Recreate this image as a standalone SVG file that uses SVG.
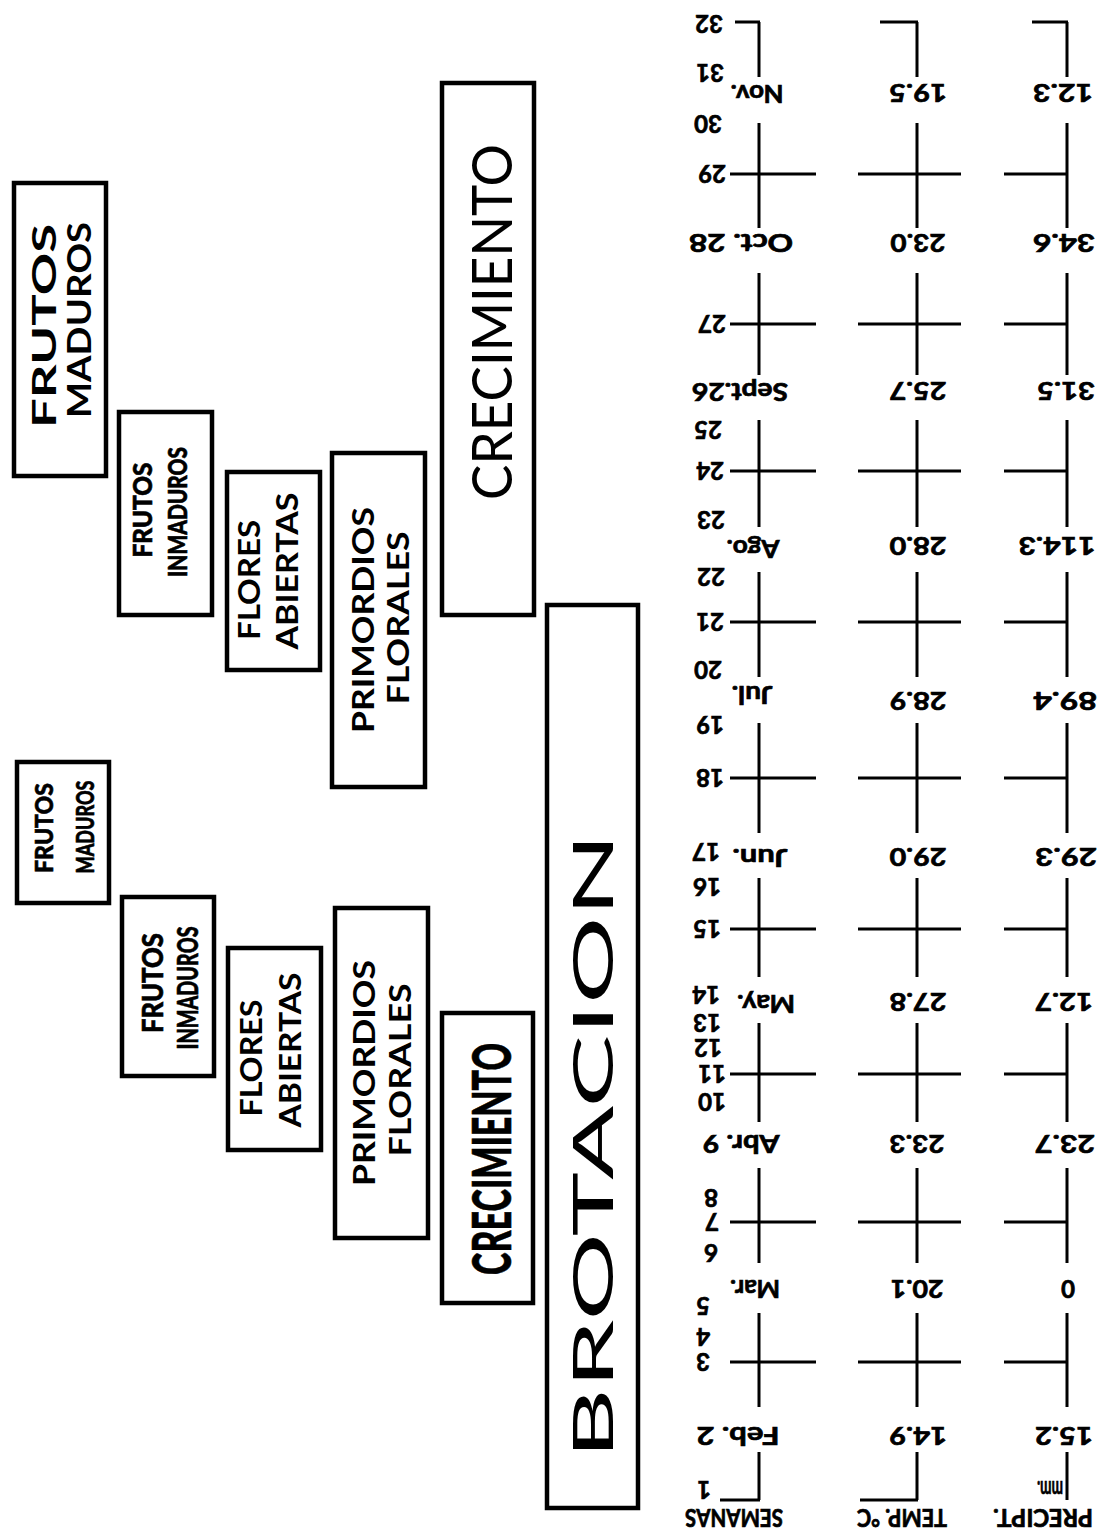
<svg xmlns="http://www.w3.org/2000/svg" width="1103" height="1535" viewBox="0 0 1103 1535">
<style>
  .box{fill:none;stroke:#000;stroke-width:4.5}
  .ax{fill:none;stroke:#000;stroke-width:3}
  .t{font-family:Lato,"Open Sans","Liberation Sans",sans-serif;fill:#000;text-anchor:middle}
  .b{font-weight:700}
  .k{font-weight:900;stroke:#000;stroke-width:0.6}
  .r{font-weight:400}
  .w{font-size:24px;font-weight:700;stroke:#000;stroke-width:0.7}
</style>
<rect width="1103" height="1535" fill="#fff"/>

<!-- phase boxes, text runs bottom to top -->
<g id="frutos-maduros-1">
  <rect class="box" x="14" y="183" width="92" height="293"/>
  <text class="t b" font-size="32" dy="0.36em" transform="translate(44,326) rotate(-90)" textLength="204" lengthAdjust="spacingAndGlyphs">FRUTOS</text>
  <text class="t b" font-size="32" dy="0.36em" transform="translate(79,320) rotate(-90)" textLength="196" lengthAdjust="spacingAndGlyphs">MADUROS</text>
</g>
<g id="frutos-inmaduros-1">
  <rect class="box" x="119" y="412" width="93" height="203"/>
  <text class="t k" font-size="26" dy="0.36em" transform="translate(143,510) rotate(-90)" textLength="95" lengthAdjust="spacingAndGlyphs">FRUTOS</text>
  <text class="t k" font-size="26" dy="0.36em" transform="translate(178,512) rotate(-90)" textLength="130" lengthAdjust="spacingAndGlyphs">INMADUROS</text>
</g>
<g id="flores-abiertas-1">
  <rect class="box" x="227" y="472" width="93" height="198"/>
  <text class="t b" font-size="30" dy="0.36em" transform="translate(249,580) rotate(-90)" textLength="120" lengthAdjust="spacingAndGlyphs">FLORES</text>
  <text class="t b" font-size="30" dy="0.36em" transform="translate(287,571) rotate(-90)" textLength="157" lengthAdjust="spacingAndGlyphs">ABIERTAS</text>
</g>
<g id="primordios-florales-1">
  <rect class="box" x="332" y="453" width="93" height="334"/>
  <text class="t b" font-size="30" dy="0.36em" transform="translate(363,620) rotate(-90)" textLength="226" lengthAdjust="spacingAndGlyphs">PRIMORDIOS</text>
  <text class="t b" font-size="30" dy="0.36em" transform="translate(398,618) rotate(-90)" textLength="173" lengthAdjust="spacingAndGlyphs">FLORALES</text>
</g>
<g id="crecimiento-1">
  <rect class="box" x="442" y="83" width="92" height="532"/>
  <text class="t r" font-size="56" dy="0.36em" transform="translate(492,322) rotate(-90)" textLength="356" lengthAdjust="spacingAndGlyphs">CRECIMIENTO</text>
</g>

<g id="frutos-maduros-2">
  <rect class="box" x="17" y="762" width="92" height="141"/>
  <text class="t k" font-size="25" dy="0.36em" transform="translate(44,828) rotate(-90)" textLength="90" lengthAdjust="spacingAndGlyphs">FRUTOS</text>
  <text class="t k" font-size="25" dy="0.36em" transform="translate(85,827) rotate(-90)" textLength="93" lengthAdjust="spacingAndGlyphs">MADUROS</text>
</g>
<g id="frutos-inmaduros-2">
  <rect class="box" x="122" y="897" width="92" height="179"/>
  <text class="t k" font-size="28" dy="0.36em" transform="translate(153,983) rotate(-90)" textLength="100" lengthAdjust="spacingAndGlyphs">FRUTOS</text>
  <text class="t k" font-size="28" dy="0.36em" transform="translate(188,988) rotate(-90)" textLength="123" lengthAdjust="spacingAndGlyphs">INMADUROS</text>
</g>
<g id="flores-abiertas-2">
  <rect class="box" x="228" y="948" width="93" height="202"/>
  <text class="t b" font-size="30" dy="0.36em" transform="translate(251,1058) rotate(-90)" textLength="117" lengthAdjust="spacingAndGlyphs">FLORES</text>
  <text class="t b" font-size="30" dy="0.36em" transform="translate(290,1050) rotate(-90)" textLength="155" lengthAdjust="spacingAndGlyphs">ABIERTAS</text>
</g>
<g id="primordios-florales-2">
  <rect class="box" x="335" y="908" width="93" height="330"/>
  <text class="t b" font-size="30" dy="0.36em" transform="translate(364,1073) rotate(-90)" textLength="226" lengthAdjust="spacingAndGlyphs">PRIMORDIOS</text>
  <text class="t b" font-size="30" dy="0.36em" transform="translate(400,1070) rotate(-90)" textLength="173" lengthAdjust="spacingAndGlyphs">FLORALES</text>
</g>
<g id="crecimiento-2">
  <rect class="box" x="442" y="1013" width="91" height="290"/>
  <text class="t k" font-size="54" dy="0.36em" transform="translate(492,1159) rotate(-90)" textLength="232" lengthAdjust="spacingAndGlyphs">CRECIMIENTO</text>
</g>
<g id="brotacion">
  <rect class="box" x="547" y="605" width="91" height="903"/>
  <text class="t r" font-size="56" dy="0.36em" transform="translate(593,1146) rotate(-90)" textLength="626" lengthAdjust="spacingAndGlyphs">BROTACION</text>
</g>

<!-- time axes: weeks, temperature, rainfall -->
<g id="axes">
  <path class="ax" d="M759,22V77M759,123V228M759,273V375M759,420V527M759,572V677M759,723V833M759,878V977M759,1023V1122M759,1168V1263M759,1313V1407M759,1452V1500"/>
  <path class="ax" d="M917,22V77M917,123V228M917,273V375M917,420V527M917,572V677M917,723V833M917,878V977M917,1023V1122M917,1168V1263M917,1313V1407M917,1452V1500"/>
  <path class="ax" d="M1067,22V77M1067,123V228M1067,273V375M1067,420V527M1067,572V677M1067,723V833M1067,878V977M1067,1023V1122M1067,1168V1263M1067,1313V1407M1067,1452V1500"/>
  <path class="ax" d="M735,22H760M880,22H918M1032,22H1068M720,1500H760M860,1500H918"/>
  <path class="ax" d="M730,174H816M730,324H816M730,471H816M730,622H816M730,778H816M730,929H816M730,1074H816M730,1222H816M730,1362H816"/>
  <path class="ax" d="M858,174H961M858,324H961M858,471H961M858,622H961M858,778H961M858,929H961M858,1074H961M858,1222H961M858,1362H961"/>
  <path class="ax" d="M1004,174H1067M1004,324H1067M1004,471H1067M1004,622H1067M1004,778H1067M1004,929H1067M1004,1074H1067M1004,1222H1067M1004,1362H1067"/>
</g>

<!-- week numbers (printed upside down) -->
<g id="weeks" class="t w">
  <text dy="0.36em" transform="translate(709,24) rotate(180)">32</text>
  <text dy="0.36em" transform="translate(710,73) rotate(180)">31</text>
  <text dy="0.36em" transform="translate(708,124) rotate(180)">30</text>
  <text dy="0.36em" transform="translate(712,174) rotate(180)">29</text>
  <text dy="0.36em" transform="translate(712,324) rotate(180)">27</text>
  <text dy="0.36em" transform="translate(708,430) rotate(180)">25</text>
  <text dy="0.36em" transform="translate(710,471) rotate(180)">24</text>
  <text dy="0.36em" transform="translate(711,520) rotate(180)">23</text>
  <text dy="0.36em" transform="translate(711,577) rotate(180)">22</text>
  <text dy="0.36em" transform="translate(710,622) rotate(180)">21</text>
  <text dy="0.36em" transform="translate(708,670) rotate(180)">20</text>
  <text dy="0.36em" transform="translate(710,725) rotate(180)">19</text>
  <text dy="0.36em" transform="translate(710,778) rotate(180)">18</text>
  <text dy="0.36em" transform="translate(706,852) rotate(180)">17</text>
  <text dy="0.36em" transform="translate(707,887) rotate(180)">16</text>
  <text dy="0.36em" transform="translate(707,929) rotate(180)">15</text>
  <text dy="0.36em" transform="translate(706,995) rotate(180)">14</text>
  <text dy="0.36em" transform="translate(707,1023) rotate(180)">13</text>
  <text dy="0.36em" transform="translate(708,1048) rotate(180)">12</text>
  <text dy="0.36em" transform="translate(712,1074) rotate(180)">11</text>
  <text dy="0.36em" transform="translate(712,1102) rotate(180)">10</text>
  <text dy="0.36em" transform="translate(711,1198) rotate(180)">8</text>
  <text dy="0.36em" transform="translate(712,1222) rotate(180)">7</text>
  <text dy="0.36em" transform="translate(711,1253) rotate(180)">6</text>
  <text dy="0.36em" transform="translate(703,1306) rotate(180)">5</text>
  <text dy="0.36em" transform="translate(703,1337) rotate(180)">4</text>
  <text dy="0.36em" transform="translate(703,1362) rotate(180)">3</text>
  <text dy="0.36em" transform="translate(704,1490) rotate(180)">1</text>
</g>

<!-- month names -->
<g id="months" class="t w">
  <text dy="0.36em" transform="translate(757,94) rotate(180)" textLength="53" lengthAdjust="spacingAndGlyphs">Nov.</text>
  <text dy="0.36em" transform="translate(741,243) rotate(180)" textLength="104" lengthAdjust="spacingAndGlyphs">Oct. 28</text>
  <text dy="0.36em" transform="translate(740,392) rotate(180)" textLength="96" lengthAdjust="spacingAndGlyphs">Sept.26</text>
  <text dy="0.36em" transform="translate(753,549) rotate(180)" textLength="53" lengthAdjust="spacingAndGlyphs">Ago.</text>
  <text dy="0.36em" transform="translate(752,695) rotate(180)" textLength="41" lengthAdjust="spacingAndGlyphs">Jul.</text>
  <text dy="0.36em" transform="translate(760,858) rotate(180)" textLength="55" lengthAdjust="spacingAndGlyphs">Jun.</text>
  <text dy="0.36em" transform="translate(766,1004) rotate(180)" textLength="58" lengthAdjust="spacingAndGlyphs">May.</text>
  <text dy="0.36em" transform="translate(741,1144) rotate(180)" textLength="77" lengthAdjust="spacingAndGlyphs">Abr. 9</text>
  <text dy="0.36em" transform="translate(755,1289) rotate(180)" textLength="50" lengthAdjust="spacingAndGlyphs">Mar.</text>
  <text dy="0.36em" transform="translate(738,1436) rotate(180)" textLength="83" lengthAdjust="spacingAndGlyphs">Feb. 2</text>
</g>

<!-- mean temperature per month -->
<g id="temperature" class="t w">
  <text dy="0.36em" transform="translate(918,93) rotate(180)" textLength="58" lengthAdjust="spacingAndGlyphs">19.5</text>
  <text dy="0.36em" transform="translate(918,243) rotate(180)" textLength="55" lengthAdjust="spacingAndGlyphs">23.0</text>
  <text dy="0.36em" transform="translate(918,391) rotate(180)" textLength="57" lengthAdjust="spacingAndGlyphs">25.7</text>
  <text dy="0.36em" transform="translate(918,546) rotate(180)" textLength="57" lengthAdjust="spacingAndGlyphs">28.0</text>
  <text dy="0.36em" transform="translate(918,701) rotate(180)" textLength="57" lengthAdjust="spacingAndGlyphs">28.9</text>
  <text dy="0.36em" transform="translate(918,857) rotate(180)" textLength="57" lengthAdjust="spacingAndGlyphs">29.0</text>
  <text dy="0.36em" transform="translate(918,1002) rotate(180)" textLength="57" lengthAdjust="spacingAndGlyphs">27.8</text>
  <text dy="0.36em" transform="translate(917,1144) rotate(180)" textLength="55" lengthAdjust="spacingAndGlyphs">23.3</text>
  <text dy="0.36em" transform="translate(917,1289) rotate(180)" textLength="53" lengthAdjust="spacingAndGlyphs">20.1</text>
  <text dy="0.36em" transform="translate(918,1436) rotate(180)" textLength="58" lengthAdjust="spacingAndGlyphs">14.9</text>
</g>

<!-- rainfall per month -->
<g id="rainfall" class="t w">
  <text dy="0.36em" transform="translate(1063,93) rotate(180)" textLength="60" lengthAdjust="spacingAndGlyphs">12.3</text>
  <text dy="0.36em" transform="translate(1064,243) rotate(180)" textLength="62" lengthAdjust="spacingAndGlyphs">34.6</text>
  <text dy="0.36em" transform="translate(1066,391) rotate(180)" textLength="58" lengthAdjust="spacingAndGlyphs">31.5</text>
  <text dy="0.36em" transform="translate(1057,546) rotate(180)" textLength="77" lengthAdjust="spacingAndGlyphs">114.3</text>
  <text dy="0.36em" transform="translate(1065,701) rotate(180)" textLength="64" lengthAdjust="spacingAndGlyphs">89.4</text>
  <text dy="0.36em" transform="translate(1066,857) rotate(180)" textLength="62" lengthAdjust="spacingAndGlyphs">29.3</text>
  <text dy="0.36em" transform="translate(1064,1002) rotate(180)" textLength="58" lengthAdjust="spacingAndGlyphs">12.7</text>
  <text dy="0.36em" transform="translate(1065,1144) rotate(180)" textLength="60" lengthAdjust="spacingAndGlyphs">23.7</text>
  <text dy="0.36em" transform="translate(1068,1289) rotate(180)">0</text>
  <text dy="0.36em" transform="translate(1064,1436) rotate(180)" textLength="58" lengthAdjust="spacingAndGlyphs">15.2</text>
  <text dy="0.26em" transform="translate(1050,1487) rotate(180)" textLength="26" lengthAdjust="spacingAndGlyphs">mm.</text>
</g>

<!-- axis titles -->
<g id="titles" class="t w">
  <text dy="0.36em" transform="translate(734,1518) rotate(180)" textLength="98" lengthAdjust="spacingAndGlyphs">SEMANAS</text>
  <text dy="0.36em" transform="translate(902,1518) rotate(180)" textLength="90" lengthAdjust="spacingAndGlyphs">TEMP. °C</text>
  <text dy="0.36em" transform="translate(1043,1518) rotate(180)" textLength="100" lengthAdjust="spacingAndGlyphs">PRECIPT.</text>
</g>
</svg>
